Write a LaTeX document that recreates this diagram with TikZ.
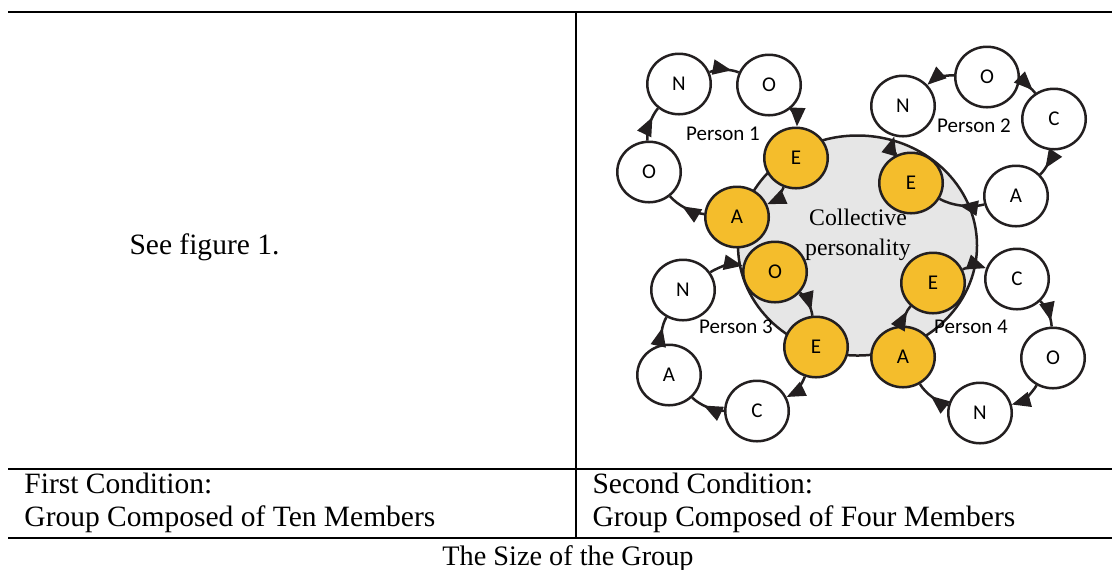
\documentclass[tikz,border=0pt]{standalone}
\usepackage{fontspec}
\setmainfont{Liberation Serif}
\newfontfamily\calfont{Carlito}
\usetikzlibrary{arrows.meta,shapes.geometric,decorations.markings}
\definecolor{traitorange}{RGB}{244,189,44}
\definecolor{inkgray}{RGB}{35,31,32}
\definecolor{blobgray}{RGB}{230,230,230}
\tikzset{
    trait/.style={
        shape=ellipse,
        draw=inkgray,
        line width=1pt,
        fill=white,
        minimum width=25.4pt,
        minimum height=24.2pt,
        inner sep=0pt,
        font=\calfont\fontsize{8.4}{10}\selectfont
    },
    shared/.style={
        trait,
        fill=traitorange
    },
    link/.style={
        draw=inkgray,
        line width=1pt,
        -{Triangle[length=7.5pt,width=6pt]}
    },
    flow/.style={
        draw=inkgray,
        line width=1pt,
        postaction={decorate},
        decoration={markings, mark=at position #1 with {\arrow{Triangle[length=7.5pt,width=6pt]}}}
    },
    cw/.style={bend left=22, looseness=0.8},
    ccw/.style={bend right=22, looseness=0.8}
}

\begin{document}
\begin{tikzpicture}[
			x=0.4pt, y=0.4pt,
			tag/.style={font=\calfont\fontsize{8.4}{10}\selectfont},
			cell/.style={anchor=base west, inner sep=0pt, font=\fontsize{11.8}{13}\selectfont},
			rule/.style={line width=0.8pt}
			]
			\useasboundingbox (0, 0) rectangle (1112, -569);

			% table rules
			\draw [rule] (8, -12) -- (1112, -12);
			\draw [rule] (8, -469) -- (1112, -469);
			\draw [rule] (8, -538) -- (1112, -538);
			\draw [rule] (576, -12) -- (576, -538);

			\node (see) at (129, -254) [cell] {See figure 1.};
			\node (c1a) at (24, -493) [cell] {First Condition:};
			\node (c1b) at (24, -526) [cell] {Group Composed of Ten Members};
			\node (c2a) at (592, -493) [cell] {Second Condition:};
			\node (c2b) at (592, -526) [cell] {Group Composed of Four Members};
			\node (size) at (568, -565) [cell, anchor=base, font=\fontsize{11.3}{13}\selectfont] {The Size of the Group};

			% collective personality
			\node (blob) at (857.5, -245.5) [ellipse, draw=inkgray, line width=1pt, fill=blobgray, minimum width=95.6pt, minimum height=88pt] {};

			% person 1
			\node (p1n) at (679, -84) [trait] {N};
			\node (p1o) at (769, -85) [trait] {O};
			\node (p1e) at (796, -158) [shared] {E};
			\node (p1a) at (737, -217) [shared] {A};
			\node (p1o2) at (649, -172) [trait] {O};
			\node (p1) at (723, -134) [tag] {Person 1};

			% person 2
			\node (p2n) at (903, -106) [trait] {N};
			\node (p2o) at (987, -77) [trait] {O};
			\node (p2c) at (1054, -119) [trait] {C};
			\node (p2a) at (1016, -196) [trait] {A};
			\node (p2e) at (911, -183) [shared] {E};
			\node (p2) at (974, -126) [tag] {Person 2};

			% person 3
			\node (p3o) at (775, -272) [shared] {O};
			\node (p3n) at (683, -290) [trait] {N};
			\node (p3e) at (816, -347) [shared] {E};
			\node (p3c) at (757, -411) [trait] {C};
			\node (p3a) at (669, -375) [trait] {A};
			\node (p3) at (736, -327) [tag] {Person 3};

			% person 4
			\node (p4e) at (933, -283) [shared] {E};
			\node (p4c) at (1017, -279) [trait] {C};
			\node (p4o) at (1053, -358) [trait] {O};
			\node (p4n) at (980, -413) [trait] {N};
			\node (p4a) at (903, -357) [shared] {A};
			\node (p4) at (971, -327) [tag] {Person 4};

			\node (coll) at (858, -235) [align=center, font=\fontsize{9.5}{12}\selectfont] {Collective\\personality};

			\draw [flow=0.75] (p1n) to[cw] (p1o);
			\draw [link] (p1o) to[cw] (p1e);
			\draw [link] (p1e) to[cw] (p1a);
			\draw [flow=0.6] (p1a) to[cw] (p1o2);
			\draw [flow=0.7] (p1o2) to[cw] (p1n);

			\draw [link] (p2o) to[ccw] (p2n);
			\draw [flow=0.8] (p2o) to[cw] (p2c);
			\draw [flow=0.7] (p2c) to[cw] (p2a);
			\draw [flow=0.55] (p2a) to[cw] (p2e);
			\draw [link] (p2e) to[cw] (p2n);

			\draw [link] (p3n) to[cw] (p3o);
			\draw [flow=0.8] (p3o) to[cw] (p3e);
			\draw [link] (p3e) to[cw] (p3c);
			\draw [flow=0.6] (p3c) to[cw] (p3a);
			\draw [flow=0.6] (p3a) to[cw] (p3n);

			\draw [link] (p4e) to[cw] (p4c);
			\draw [flow=0.8] (p4c) to[cw] (p4o);
			\draw [link] (p4o) to[cw] (p4n);
			\draw [flow=0.55] (p4n) to[cw] (p4a);
			\draw [flow=0.7] (p4a) to[cw] (p4e);
		\end{tikzpicture}
\end{document}
